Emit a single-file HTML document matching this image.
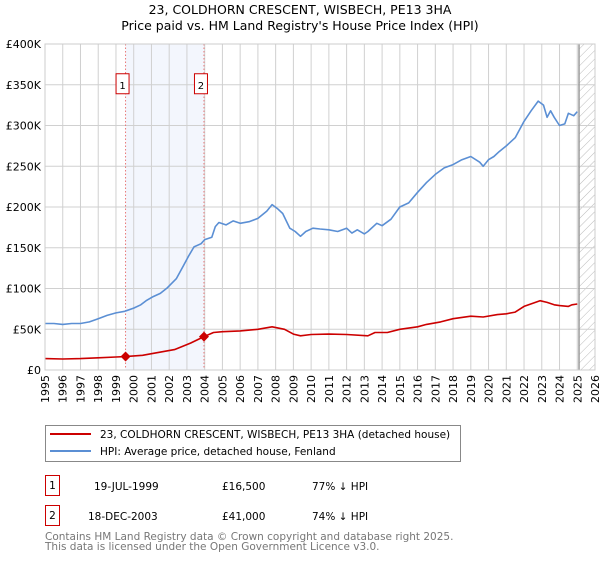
<!DOCTYPE html>
<html><head><meta charset="utf-8"><style>
body{margin:0;background:#fff;width:600px;height:560px;overflow:hidden;font-family:"DejaVu Sans","Liberation Sans",sans-serif;}
svg text{font-family:"DejaVu Sans","Liberation Sans",sans-serif;}
</style></head><body>
<svg id="chart" width="600" height="560" xmlns="http://www.w3.org/2000/svg">
<defs><pattern id="hatch" width="6" height="6" patternUnits="userSpaceOnUse" patternTransform="rotate(45)"><line x1="0" y1="0" x2="0" y2="6" stroke="#bbb" stroke-width="1"/></pattern></defs>
<text x="300" y="14" text-anchor="middle" font-size="12.5">23, COLDHORN CRESCENT, WISBECH, PE13 3HA</text>
<text x="300" y="30" text-anchor="middle" font-size="12.5">Price paid vs. HM Land Registry's House Price Index (HPI)</text>
<g id="plot"></g>
<g>
<rect x="45.5" y="425.5" width="415" height="36" fill="#fff" stroke="#888"/>
<line x1="50" y1="434" x2="91" y2="434" stroke="#cc0000" stroke-width="2"/>
<text x="100" y="438" font-size="10.5">23, COLDHORN CRESCENT, WISBECH, PE13 3HA (detached house)</text>
<line x1="50" y1="451" x2="91" y2="451" stroke="#5b8fd4" stroke-width="2"/>
<text x="100" y="455" font-size="10.5">HPI: Average price, detached house, Fenland</text>
</g>
<g font-size="10.5">
<rect x="45.5" y="475.5" width="14" height="20" fill="#fff" stroke="#cc0000"/>
<text x="52.5" y="489" text-anchor="middle">1</text>
<text x="94" y="490">19-JUL-1999</text><text x="222" y="490">£16,500</text><text x="312" y="490">77% ↓ HPI</text>
<rect x="45.5" y="505.5" width="14" height="20" fill="#fff" stroke="#cc0000"/>
<text x="52.5" y="519" text-anchor="middle">2</text>
<text x="88" y="520">18-DEC-2003</text><text x="222" y="520">£41,000</text><text x="312" y="520">74% ↓ HPI</text>
</g>
<g font-size="10.5" fill="#777">
<text x="45" y="540">Contains HM Land Registry data © Crown copyright and database right 2025.</text>
<text x="45" y="550">This data is licensed under the Open Government Licence v3.0.</text>
</g>
</svg>
<script>
const hpiYears=[1995,1995.5,1996,1996.5,1997,1997.5,1998,1998.5,1999,1999.5,2000,2000.4,2000.7,2001.1,2001.5,2001.9,2002.4,2002.8,2003.1,2003.4,2003.8,2004,2004.4,2004.6,2004.8,2005.2,2005.6,2006,2006.5,2007,2007.5,2007.8,2008.1,2008.4,2008.8,2009.1,2009.4,2009.7,2010.1,2010.5,2011,2011.5,2012,2012.3,2012.6,2013,2013.2,2013.7,2014,2014.5,2015,2015.5,2016,2016.5,2017,2017.5,2018,2018.5,2019,2019.5,2019.7,2020,2020.3,2020.6,2021,2021.5,2022,2022.4,2022.8,2023.1,2023.3,2023.5,2023.7,2024,2024.3,2024.5,2024.8,2025];
const hpiValues=[57,57,56,57,57,59,63,67,70,72,76,80,85,90,94,101,112,128,140,151,155,160,163,176,181,178,183,180,182,186,195,203,198,192,174,170,164,170,174,173,172,170,174,168,172,167,170,180,177,185,200,205,218,230,240,248,252,258,262,255,250,258,262,268,275,285,305,318,330,325,310,318,310,300,302,315,312,317];
const ppYears=[1995,1996,1997,1998,1999,1999.54,2000.5,2001,2002.3,2003.2,2003.96,2004.5,2005,2006,2007,2007.8,2008.5,2009,2009.4,2010,2011,2012,2013.2,2013.6,2014.3,2015,2016,2016.5,2017.3,2018,2019,2019.7,2020.5,2021,2021.5,2022,2022.5,2022.9,2023.3,2023.7,2024,2024.5,2024.7,2025];
const ppValues=[14,13.5,14,15,16,16.5,18,20,25,33,41,46,47,48,50,53,50,44,42,43.5,44,43.5,42,46,46,50,53,56,59,63,66,65,68,69,71,78,82,85,83,80,79,78,80,81];
const yTicks=[0,50,100,150,200,250,300,350,400];
const yTickLabels=["£0","£50K","£100K","£150K","£200K","£250K","£300K","£350K","£400K"];
const xTicks=[1995,1996,1997,1998,1999,2000,2001,2002,2003,2004,2005,2006,2007,2008,2009,2010,2011,2012,2013,2014,2015,2016,2017,2018,2019,2020,2021,2022,2023,2024,2025,2026];
const sales=[{label:"1",year:1999.54,value:16.5},{label:"2",year:2003.96,value:41}];
const X0=45,X1=595,Y0=370,Y1=44;
const xs=y=>X0+(y-1995)/(2026-1995)*(X1-X0);
const ys=v=>Y0-v/400*(Y0-Y1);
const NS="http://www.w3.org/2000/svg";
const g=document.getElementById('plot');
function mk(t,a,p){const e=document.createElementNS(NS,t);for(const k in a)e.setAttribute(k,a[k]);(p||g).appendChild(e);return e;}
const sh=mk('rect',{x:xs(sales[0].year),y:Y1,width:xs(sales[1].year)-xs(sales[0].year),height:Y0-Y1,fill:'#f3f6fd'});


const ht=mk('rect',{x:xs(2025.1),y:Y1,width:X1-xs(2025.1),height:Y0-Y1,fill:'url(#hatch)'});


yTicks.forEach((v,i)=>{
 const l=mk('line',{x1:X0,x2:X1,y1:ys(v),y2:ys(v),stroke:'#d0d0d0','stroke-width':1});
 
 
 const t=mk('text',{x:X0-4,y:ys(v)+4,'text-anchor':'end','font-size':11});
 t.textContent=yTickLabels[i];
 
 
});
xTicks.forEach(yr=>{
 const l=mk('line',{x1:xs(yr),x2:xs(yr),y1:Y1,y2:Y0,stroke:'#d0d0d0','stroke-width':1});
 
 
 const t=mk('text',{transform:`translate(${xs(yr)+4},${Y0+5}) rotate(-90)`,'text-anchor':'end','font-size':11});
 t.textContent=yr;
 
 
});
const ed=mk('line',{x1:xs(2025.1),x2:xs(2025.1),y1:Y1,y2:Y0,stroke:'#999','stroke-width':1.5});


sales.forEach(s=>{
 const l=mk('line',{x1:xs(s.year),x2:xs(s.year),y1:Y1,y2:Y0,stroke:'#e87878','stroke-width':1,'stroke-dasharray':'1.5,2'});
 
 
 const b=mk('rect',{x:xs(s.year)-9.5,y:ys(350)-11,width:13,height:20,fill:'#fff',stroke:'#cc0000'});
 
 
 const t=mk('text',{x:xs(s.year)-3,y:ys(350)+4,'text-anchor':'middle','font-size':10});
 t.textContent=s.label;
 
 
});
function line(xa,va,col,name){
 const d=xa.map((x,i)=>(i?'L':'M')+xs(x).toFixed(1)+','+ys(va[i]).toFixed(1)).join('');
 const p=mk('path',{d:d,fill:'none',stroke:col,'stroke-width':1.6,'stroke-linejoin':'round'});
 
 
}
line(hpiYears,hpiValues,'#5b8fd4','hpi-line');
line(ppYears,ppValues,'#cc0000','price-paid-line');
sales.forEach(s=>{
 const c=mk('path',{d:`M${xs(s.year)},${ys(s.value)-5}l5,5l-5,5l-5,-5z`,fill:'#cc0000'});
 
 
});
const ax=mk('rect',{x:X0,y:Y1,width:X1-X0,height:Y0-Y1,fill:'none',stroke:'#ccc'});


</script>
</body></html>
